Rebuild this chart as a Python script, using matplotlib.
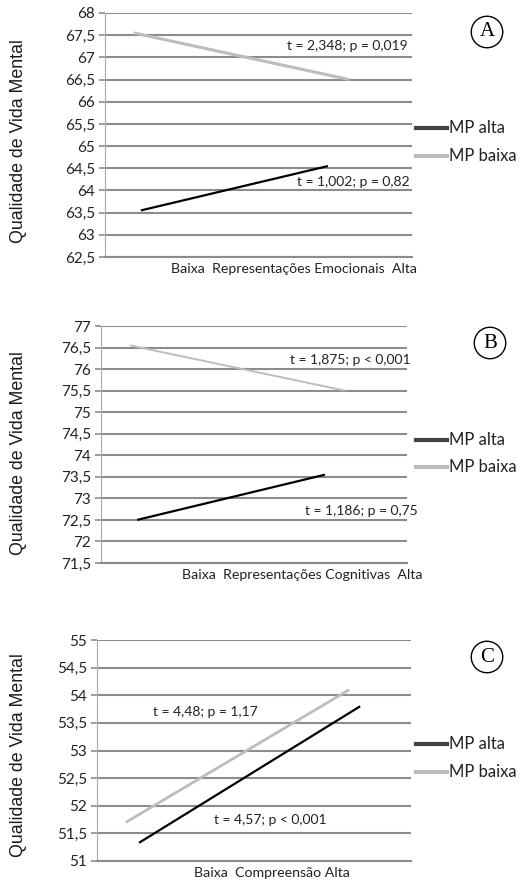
import matplotlib

matplotlib.use("Agg")
import matplotlib.pyplot as plt  # noqa: E402
from matplotlib.transforms import offset_copy  # noqa: E402

plt.rcParams["font.family"] = ["Lato", "DejaVu Sans"]

# --- data -------------------------------------------------------------
panels = ["A", "B", "C"]
x_labels = [
    "Baixa  Representações Emocionais  Alta",
    "Baixa  Representações Cognitivas  Alta",
    "Baixa  Compreensão Alta",
]
y_ticks = [
    [62.5, 63, 63.5, 64, 64.5, 65, 65.5, 66, 66.5, 67, 67.5, 68],
    [71.5, 72, 72.5, 73, 73.5, 74, 74.5, 75, 75.5, 76, 76.5, 77],
    [51, 51.5, 52, 52.5, 53, 53.5, 54, 54.5, 55],
]
# endpoints of each simple slope (x runs 0..1 along the category axis)
alta_x = [[0.117, 0.726], [0.118, 0.732], [0.134, 0.838]]
alta_y = [[63.55, 64.55], [72.5, 73.55], [51.33, 53.8]]
baixa_x = [[0.094, 0.795], [0.095, 0.797], [0.092, 0.803]]
baixa_y = [[67.55, 66.5], [76.55, 75.5], [51.7, 54.1]]
stats_baixa = ["t = 2,348; p = 0,019", "t = 1,875; p < 0,001", "t = 4,48; p = 1,17"]
stats_alta = ["t = 1,002; p = 0,82", "t = 1,186; p = 0,75", "t = 4,57; p < 0,001"]
series = ["MP alta", "MP baixa"]

# --- layout (figure pixels: left, right, top, bottom) -----------------
W, H = 530, 883
boxes = [(105, 412, 13, 257), (101, 407, 326, 563), (97, 411, 640, 861)]
stat_baixa_pos = [(0.987, 67.25, "right"), (1.013, 76.2, "right"), (0.344, 53.7, "center")]
stat_alta_pos = [(0.993, 64.18, "right"), (1.036, 72.7, "right"), (0.551, 51.75, "center")]
xlab_x = [0.616, 0.657, 0.557]
ylab_y = [141, 453, 755]
circle_pos = [(487, 32), (490, 343), (487, 657)]
legend_y = [(128, 156), (440, 467), (744, 772)]

grid_c = "#8c8c8c"
alta_c, baixa_c = "#000000", "#bdbdbd"
leg_c = ["#444444", "#bbbbbb"]
baixa_lw = [2.2, 1.4, 2.0]

fig = plt.figure(figsize=(W / 100, H / 100), dpi=100)

for i, p in enumerate(panels):
    l, r, t, b = boxes[i]
    ax = fig.add_axes([l / W, 1 - b / H, (r - l) / W, (b - t) / H])
    ax.set_xlim(0, 1)
    ax.set_ylim(y_ticks[i][0], y_ticks[i][-1])
    ax.set_yticks(y_ticks[i], [f"{v:g}".replace(".", ",") for v in y_ticks[i]])
    ax.set_xticks([])
    ax.grid(axis="y", color=grid_c, lw=1.5)
    ax.set_axisbelow(True)
    for s in ["top", "right"]:
        ax.spines[s].set_visible(False)
    ax.spines["left"].set_color("#a8a8a8")
    ax.spines["bottom"].set_color(grid_c)
    ax.spines["bottom"].set_linewidth(1.5)
    ax.tick_params(axis="y", length=4, color=grid_c, width=1.2, pad=3,
                   labelsize=11, labelcolor="#222222")

    ax.plot(baixa_x[i], baixa_y[i], color=baixa_c, lw=baixa_lw[i], solid_capstyle="butt")
    ax.plot(alta_x[i], alta_y[i], color=alta_c, lw=1.6, solid_capstyle="butt")

    x, y, ha = stat_baixa_pos[i]
    ax.text(x, y, stats_baixa[i], ha=ha, va="center", fontsize=10, color="#222222")
    x, y, ha = stat_alta_pos[i]
    ax.text(x, y, stats_alta[i], ha=ha, va="center", fontsize=10, color="#222222")

    tr = offset_copy(ax.transAxes, fig=fig, y=-12, units="dots")
    ax.text(xlab_x[i], 0, x_labels[i], transform=tr, ha="center", va="center",
            fontsize=10.2, color="#222222")

    fig.text(19 / W, 1 - ylab_y[i] / H, "Qualidade de Vida Mental", rotation=90,
             ha="center", va="center", fontsize=12.8, color="#1a1a1a",
             family=["Liberation Sans", "DejaVu Sans"])

    cx, cy = circle_pos[i]
    fig.text(cx / W, 1 - cy / H, p, ha="center", va="center", fontsize=15,
             family=["Liberation Serif", "DejaVu Serif"],
             bbox=dict(boxstyle="circle,pad=0.3", fc="white", ec="black", lw=1.0))

    for k, name in enumerate(series):
        yy = 1 - legend_y[i][k] / H
        fig.lines.append(plt.Line2D([416 / W, 447 / W], [yy, yy], color=leg_c[k], lw=3,
                                    transform=fig.transFigure))
        fig.text(449 / W, yy, name, ha="left", va="center", fontsize=12,
                 color="#222222")

fig.savefig("out.png", dpi=100)
